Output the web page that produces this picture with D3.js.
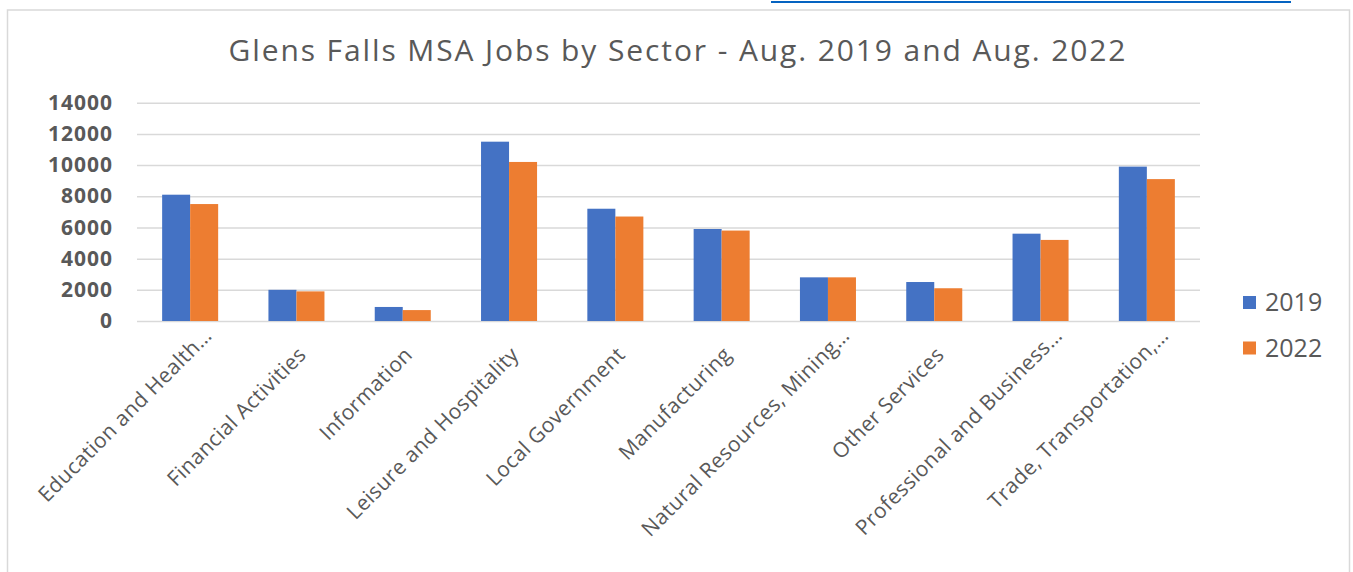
<!DOCTYPE html>
<html>
<head>
<meta charset="utf-8">
<script src="https://cdn.jsdelivr.net/npm/d3@7"></script>
<style>
  body { margin: 0; background: #fff; }
  svg text { font-family: "Open Sans", sans-serif; fill: #595959; }
</style>
</head>
<body>
<svg width="1353" height="572"></svg>
<script>
// sectors, as the chart truncates them
var categories = ["Education and Health…", "Financial Activities", "Information",
  "Leisure and Hospitality", "Local Government", "Manufacturing",
  "Natural Resources, Mining…", "Other Services", "Professional and Business…",
  "Trade, Transportation,…"];
var seriesNames = ["2019", "2022"];
var jobs2019 = [8100, 2000, 900, 11500, 7200, 5900, 2800, 2500, 5600, 9900];
var jobs2022 = [7500, 1900, 700, 10200, 6700, 5800, 2800, 2100, 5200, 9100];
var yTicks = [0, 2000, 4000, 6000, 8000, 10000, 12000, 14000];
var colors = ["#4472C4", "#ED7D31"];
var title = "Glens Falls MSA Jobs by Sector - Aug. 2019 and Aug. 2022";

var svg = d3.select("svg"),
  margin = {top: 102.7, left: 137, right: 153, bottom: 251},
  width = 1353 - margin.left - margin.right,
  height = 572 - margin.top - margin.bottom,
  g = svg.append("g").attr("transform", "translate(" + margin.left + "," + margin.top + ")");

var rows = categories.map(function(c, i) {
  return {cat: c, values: [jobs2019[i], jobs2022[i]]};
});

// link underline left over from the text above the chart
svg.append("line")
  .attr("x1", 771).attr("x2", 1291).attr("y1", 2).attr("y2", 2)
  .attr("stroke", "#0563C1").attr("stroke-width", 2);

// chart frame
svg.append("path")
  .attr("d", "M7.5,572 V10 H1349.5 V572")
  .attr("fill", "none")
  .attr("stroke", "#D9D9D9")
  .attr("stroke-width", 1.5);

svg.append("text")
  .attr("x", 677).attr("y", 61)
  .attr("text-anchor", "middle")
  .attr("font-size", 30)
  .attr("textLength", 897)
  .attr("lengthAdjust", "spacing")
  .text(title);

var x0 = d3.scaleBand()
  .domain(categories)
  .range([0, width])
  .paddingInner(0.473)
  .paddingOuter(0.2365);

var x1 = d3.scaleBand()
  .domain(seriesNames)
  .range([0, x0.bandwidth()]);

var y = d3.scaleLinear()
  .domain([0, 14000])
  .range([height, 0]);

// gridlines + y labels
var yAxis = g.append("g")
  .call(d3.axisLeft(y).tickValues(yTicks).tickFormat(d3.format("d")).tickSize(-width).tickPadding(24));
yAxis.select(".domain").remove();
yAxis.selectAll(".tick line")
  .attr("stroke", "#D9D9D9")
  .attr("stroke-width", 1.5);
yAxis.selectAll(".tick text")
  .attr("font-size", 21)
  .attr("font-weight", "bold")
  .attr("letter-spacing", 1)
  .attr("fill", "#595959");

g.append("g")
  .selectAll("g")
  .data(rows)
  .enter().append("g")
    .attr("transform", function(d) { return "translate(" + x0(d.cat) + ",0)"; })
  .selectAll("rect")
  .data(function(d) { return d.values.map(function(v, i) { return {key: seriesNames[i], value: v}; }); })
  .enter().append("rect")
    .attr("x", function(d) { return x1(d.key); })
    .attr("y", function(d) { return y(d.value); })
    .attr("width", x1.bandwidth())
    .attr("height", function(d) { return y(0) - y(d.value); })
    .attr("fill", function(d, i) { return colors[i]; });

// rotated category labels
var xAxis = g.append("g")
  .attr("transform", "translate(0," + height + ")")
  .call(d3.axisBottom(x0).tickSize(0));
xAxis.select(".domain").remove();
xAxis.selectAll(".tick text")
  .attr("x", null).attr("y", null).attr("dy", null)
  .attr("font-size", 21)
  .attr("letter-spacing", 0.4)
  .attr("fill", "#595959")
  .attr("text-anchor", "end")
  .attr("transform", function(d) {
    var cut = d.slice(-1) === "…";
    return cut ? "translate(23,16) rotate(-45)" : "translate(11,35) rotate(-45)";
  });

// legend
var legend = svg.append("g")
  .selectAll("g")
  .data(seriesNames)
  .enter().append("g")
    .attr("transform", function(d, i) { return "translate(1243," + (296 + i * 45.5) + ")"; });
legend.append("rect")
  .attr("width", 13).attr("height", 13)
  .attr("fill", function(d, i) { return colors[i]; });
legend.append("text")
  .attr("x", 22).attr("y", 15)
  .attr("font-size", 25)
  .text(function(d) { return d; });
</script>
</body>
</html>
